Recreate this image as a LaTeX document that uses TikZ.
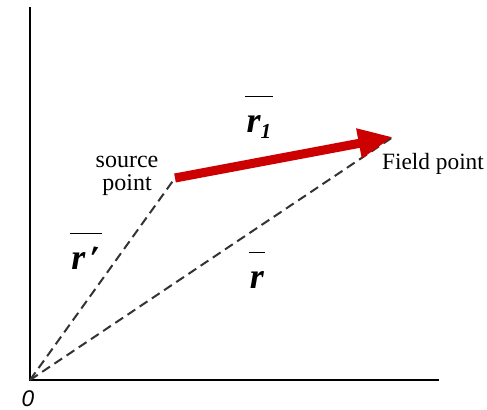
\documentclass[tikz,border=0pt]{standalone}
\usepackage{fontspec}
\setmainfont{Liberation Serif}
\newfontfamily\axisfont{Liberation Sans}
\usetikzlibrary{arrows.meta}
\newcommand{\barvec}[1]{$\overline{\rule{0pt}{0.95em}\kern1pt\textbf{\textit{#1}}\kern1pt}$}
\begin{document}
\begin{tikzpicture}[x=0.75pt,y=-0.75pt]
\useasboundingbox (0,0) rectangle (487,410);
\coordinate (O) at (30,380);
\coordinate (Ytop) at (30,7);
\coordinate (Xend) at (439,380);
\coordinate (S) at (175,178);
\coordinate (F) at (393,137);

\draw[line width=1.5pt] (Ytop)--(O)--(Xend);
\draw[dashed,line width=1.5pt,black!80,dash pattern=on 7pt off 4pt] (O)--(S);
\draw[dashed,line width=1.5pt,black!80,dash pattern=on 7pt off 4pt] (O)--(F);
\draw[line width=6.8pt,red!80!black,-{Triangle[length=26pt,width=21pt]}] (S)--(F);

\node[align=center,font=\fontsize{18}{17}\selectfont,inner sep=1pt] (src) at (127,176) {source\\point};
\node[font=\fontsize{17.5}{20}\selectfont] (fld) at (433,164) {Field point};
\node[font=\fontsize{27}{28}\selectfont] (r1) at (259,117) {\barvec{r\raisebox{-5pt}{\fontsize{16}{16}\selectfont 1}}};
\node[font=\fontsize{27}{28}\selectfont] (rp) at (86,252) {\barvec{r\kern1pt\rotatebox{-10}{\textbf{\textit{\char"2032}}}}};
\node[font=\fontsize{27}{28}\selectfont] (r) at (257,270) {\barvec{r}};
\node[font=\axisfont\itshape\fontsize{17}{18}\selectfont,inner sep=1pt] (zero) at (28,399) {0};
\end{tikzpicture}
\end{document}
